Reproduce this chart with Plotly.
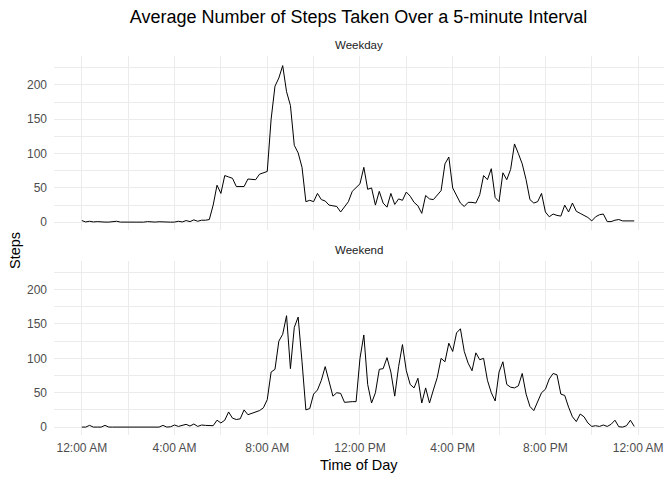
import plotly.graph_objects as go
from plotly.subplots import make_subplots

# 10-minute intervals across the day, in minutes after midnight
interval_min = list(range(0, 1440, 10))

weekday_steps = [
    2.5, 0.5, 1.5, 0.5, 1, 0.3, 0.3, 0.3, 0.5, 1.5, 0.3, 0.2,
    0.2, 0.2, 0.3, 0.2, 0.2, 1, 0.2, 0.3, 0.8, 0.3, 0.2, 0.2,
    0.3, 1.5, 0.5, 2.5, 1.0, 3.5, 1.5, 3, 3, 4, 25, 54,
    42, 68, 66, 64, 52, 52, 52, 63, 63, 62, 70, 72,
    74, 150, 198, 210, 228, 190, 170, 112, 101, 80, 30, 32,
    30, 42, 33, 31, 25, 24, 23, 15, 23, 30, 45, 50,
    56, 80, 48, 50, 25, 45, 28, 22, 42, 26, 34, 32,
    44, 38, 29, 24, 13, 39, 34, 33, 40, 46, 85, 95,
    50, 40, 28, 23, 29, 29, 28, 40, 68, 62, 78, 36,
    30, 72, 62, 77, 114, 100, 85, 62, 33, 28, 30, 42,
    15, 8, 12, 10, 9, 25, 15, 28, 16, 13, 10, 7,
    2, 8, 11, 12, 1, 1, 3, 4, 2, 2, 3, 2,
]

weekend_steps = [
    0, 0, 2.5, 0, 0, 0, 2.5, 0, 0, 0, 0, 0,
    0, 0, 0, 0, 0, 0, 0, 0, 0, 2.5, 0, 0.5,
    3, 1, 2.5, 4, 1.5, 4.5, 1, 3, 2.5, 2, 2, 10,
    6, 10, 22, 13, 11, 12, 25, 18, 20, 22, 24, 28,
    40, 80, 84, 125, 135, 162, 85, 145, 160, 95, 25, 27,
    48, 54, 68, 88, 65, 45, 50, 49, 36, 37, 37, 37,
    100, 134, 62, 35, 50, 84, 85, 101, 80, 45, 88, 120,
    82, 62, 57, 71, 35, 57, 35, 54, 72, 100, 95, 122,
    110, 137, 143, 110, 93, 82, 108, 98, 100, 68, 50, 38,
    80, 95, 62, 58, 57, 60, 78, 48, 30, 24, 38, 50,
    55, 70, 78, 76, 48, 46, 29, 15, 8, 19, 15, 6,
    1, 2, 1, 3, 1, 4, 10, 0.5, 0, 2, 10, 1,
]

panels = [("Weekday", weekday_steps), ("Weekend", weekend_steps)]

x_tick_vals = [0, 240, 480, 720, 960, 1200, 1440]
x_tick_text = ["12:00 AM", "4:00 AM", "8:00 AM", "12:00 PM", "4:00 PM", "8:00 PM", "12:00 AM"]
y_tick_vals = [0, 50, 100, 150, 200]

FONT = "Liberation Sans, Arial, sans-serif"
GRID = "#ebebeb"

fig = make_subplots(rows=2, cols=1, shared_xaxes=True)

for row, (label, steps) in enumerate(panels, start=1):
    fig.add_trace(
        go.Scatter(
            x=interval_min,
            y=steps,
            mode="lines",
            line={"color": "black", "width": 1},
            showlegend=False,
            name=label,
        ),
        row=row, col=1,
    )

axis_common = dict(
    showline=False, zeroline=False, ticks="", ticklen=0,
    gridcolor=GRID, gridwidth=1,
    tickfont={"family": FONT, "size": 12, "color": "#4d4d4d"},
)

fig.update_xaxes(
    range=[-72, 1507],
    tickvals=x_tick_vals, ticktext=x_tick_text,
    ticklabelstandoff=4,
    minor={"tickmode": "linear", "tick0": 0, "dtick": 120,
           "showgrid": True, "gridcolor": GRID, "gridwidth": 0.6},
    **axis_common,
)
fig.update_xaxes(showticklabels=False, row=1, col=1)

fig.update_yaxes(
    range=[-11.5, 242],
    tickvals=y_tick_vals,
    ticklabelstandoff=6,
    minor={"tickmode": "linear", "tick0": 0, "dtick": 25,
           "showgrid": True, "gridcolor": GRID, "gridwidth": 0.6},
    **axis_common,
)

# the page puts the figure 8px in from the window corner, so margins
# are pulled in by that much
fig.update_layout(
    width=672, height=480,
    template="plotly_white",
    plot_bgcolor="white", paper_bgcolor="white",
    margin={"l": 46, "r": 16, "t": 48, "b": 53},
    yaxis={"domain": [0.5404, 1.0]},
    yaxis2={"domain": [0.0, 0.4599]},
    title={
        "text": "Average Number of Steps Taken Over a 5-minute Interval",
        "x": 0.5216, "xanchor": "center", "y": 0.981, "yanchor": "middle",
        "font": {"family": FONT, "size": 18, "color": "black"},
    },
    font={"family": FONT},
)

# facet strip labels
for label, ypos in (("Weekday", 1.029), ("Weekend", 0.488)):
    fig.add_annotation(
        text=label, xref="paper", yref="paper", x=0.5, y=ypos,
        xanchor="center", yanchor="middle", showarrow=False,
        font={"family": FONT, "size": 11.5, "color": "#1a1a1a"},
    )

# axis titles
fig.add_annotation(
    text="Steps", xref="paper", yref="paper", x=-0.064, y=0.488,
    xanchor="center", yanchor="middle", textangle=-90, showarrow=False,
    font={"family": FONT, "size": 14.5, "color": "black"},
)
fig.add_annotation(
    text="Time of Day", xref="paper", yref="paper", x=0.5, y=-0.079,
    xanchor="center", yanchor="middle", showarrow=False,
    font={"family": FONT, "size": 14.5, "color": "black"},
)

fig.write_html("out.html")
